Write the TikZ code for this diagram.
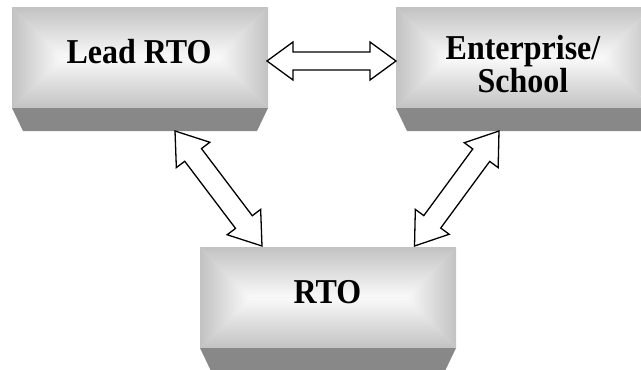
\documentclass[tikz,border=0pt]{standalone}
\usepackage{fontspec}
\setmainfont{Liberation Serif}
\usetikzlibrary{calc}
\definecolor{boxedge}{RGB}{194,194,194}
\definecolor{boxmid}{RGB}{250,250,250}
\definecolor{bevelgray}{RGB}{136,136,136}
\tikzset{
  arrowline/.style={draw=black,fill=white,line width=1.3pt,line join=miter},
  bevelface/.style={fill=bevelgray},
  lbl/.style={inner sep=0pt,font=\fontsize{32}{31}\selectfont\bfseries,align=center},
}
\newcommand{\tall}[1]{\scalebox{1}[1.09]{#1}}
\newcommand{\pillowbox}[4]{%
  \pgfmathsetmacro\ph{(#4-#2)/2}%
  \pgfmathsetmacro\pyc{#2+\ph}%
  \pgfmathsetmacro\pxl{#1+\ph}%
  \pgfmathsetmacro\pxr{#3-\ph}%
  \fill[boxedge!40!boxmid] (#1,#2) rectangle (#3,#4);
  \shade[top color=boxedge,bottom color=boxmid] (#1,#2) -- (#3,#2) -- (\pxr,\pyc) -- (\pxl,\pyc) -- cycle;
  \shade[top color=boxmid,bottom color=boxedge] (#1,#4) -- (#3,#4) -- (\pxr,\pyc) -- (\pxl,\pyc) -- cycle;
  \shade[left color=boxedge,right color=boxmid] (#1,#2) -- (\pxl,\pyc) -- (#1,#4) -- cycle;
  \shade[left color=boxmid,right color=boxedge] (#3,#2) -- (\pxr,\pyc) -- (#3,#4) -- cycle;
  \pgfmathsetmacro\pbl{#1+11}%
  \pgfmathsetmacro\pbr{#3-11}%
  \pgfmathsetmacro\pbb{#4+23}%
  \fill[bevelface] (#1,#4) -- (#3,#4) -- (\pbr,\pbb) -- (\pbl,\pbb) -- cycle;
}
\newcommand{\blockarr}[5]{%
  \coordinate (ha) at ($(#1)!#3!(#2)$);
  \coordinate (hb) at ($(#2)!#3!(#1)$);
  \draw[arrowline] (#1) -- ($(ha)!#4!90:(#2)$) -- ($(ha)!#5!90:(#2)$)
    -- ($(hb)!#5!-90:(#1)$) -- ($(hb)!#4!-90:(#1)$) -- (#2)
    -- ($(hb)!#4!90:(#1)$) -- ($(hb)!#5!90:(#1)$)
    -- ($(ha)!#5!-90:(#2)$) -- ($(ha)!#4!-90:(#2)$) -- cycle;
}
\begin{document}
\begin{tikzpicture}[x=1pt,y=-1pt]
\useasboundingbox (0,0) rectangle (641,370);
\begin{scope}
\clip (0,0) rectangle (641,370);
% boxes
\pillowbox{12}{7}{268}{108}
\pillowbox{396}{7}{652}{108}
\pillowbox{200}{247}{456}{348}
\node[minimum width=256pt,minimum height=101pt,inner sep=0pt] (lead) at (140,57.5) {};
\node[minimum width=256pt,minimum height=101pt,inner sep=0pt] (ent) at (524,57.5) {};
\node[minimum width=256pt,minimum height=101pt,inner sep=0pt] (rto) at (328,297.5) {};
% labels
\node[lbl,anchor=base] (leadtxt) at (139,63.3) {\tall{Lead RTO}};
\node[lbl,anchor=base] (enttxt) at (523,92.5) {\tall{Enterprise/}\\\tall{School}};
\node[lbl,anchor=base] (rtotxt) at (327.5,303) {\tall{RTO}};
% arrow end points
\coordinate (l1) at (267,61);
\coordinate (e1) at (396,61);
\coordinate (l2) at (175,131);
\coordinate (r1) at (262,246);
\coordinate (e2) at (499,131);
\coordinate (r2) at (414.5,246);
\blockarr{l1}{e1}{26pt}{19pt}{9pt}
\blockarr{l2}{r1}{30pt}{21pt}{10.5pt}
\blockarr{e2}{r2}{30pt}{21pt}{10.5pt}
\end{scope}
\end{tikzpicture}
\end{document}
